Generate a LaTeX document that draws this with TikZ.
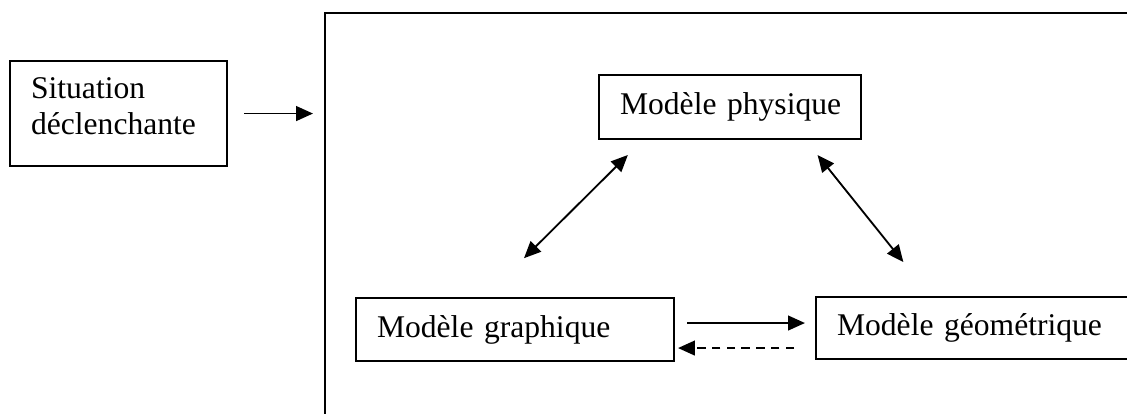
\documentclass[tikz,border=0pt]{standalone}
\usepackage{fontspec}
\setmainfont{Liberation Serif}
\usetikzlibrary{arrows.meta,calc}
\begin{document}
\begin{tikzpicture}[x=0.01335cm,y=-0.01335cm]
  \tikzset{bx/.style={draw,rectangle,line width=0.8pt,anchor=north west,inner xsep=0.28cm,inner ysep=0pt,
      align=left,font=\fontsize{12}{13.7}\selectfont},
    fl/.style={line width=0.7pt,-{Triangle[length=6.4pt,width=5.6pt]}},
    fl2/.style={line width=0.7pt,{Triangle[length=6.4pt,width=5.6pt]}-{Triangle[length=6.4pt,width=5.6pt]}}}
  \useasboundingbox (0,0) rectangle (1127,414);
  \clip (0,0) rectangle (1127,414);
  \node[draw,line width=0.8pt,anchor=north west,minimum width=11.35cm,minimum height=5.607cm] (cadre) at (324,12) {};
  \node[bx,minimum width=2.897cm,minimum height=1.402cm,text width=2.336cm,text depth=0.694cm] (sit) at (9,60) {Situation\\déclenchante};
  \node[bx,minimum width=3.498cm,minimum height=0.854cm,text width=2.937cm] (phys) at (598,74) {Modèle~physique};
  \node[bx,minimum width=4.245cm,minimum height=0.841cm,text width=3.685cm] (graph) at (355,297) {Modèle~graphique};
  \node[bx,minimum width=4.406cm,minimum height=0.828cm,text width=3.845cm] (geom) at (815,296) {Modèle~géométrique};
  \draw[fl,shorten <=0.214cm,shorten >=0.147cm] (sit.east) -- (sit.east -| cadre.west);
  \draw[fl2,shorten <=0.735cm,shorten >=0.283cm] ($(graph.north west)!0.406!(graph.north east)$) -- ($(phys.south west)!0.17!(phys.south east)$);
  \draw[fl2,shorten <=0.256cm,shorten >=0.581cm] ($(phys.south west)!0.786!(phys.south east)$) -- ($(geom.north west)!0.348!(geom.north east)$);
  \draw[fl,shorten <=0.16cm,shorten >=0.134cm] ([yshift=0.087cm]graph.east) -- ([yshift=0.087cm]graph.east -| geom.west);
  \draw[fl,dash pattern=on 3.2pt off 2.4pt,shorten <=0.28cm,shorten >=0.04cm] ([yshift=-0.247cm]graph.east -| geom.west) -- ([yshift=-0.247cm]graph.east);
\end{tikzpicture}
\end{document}
